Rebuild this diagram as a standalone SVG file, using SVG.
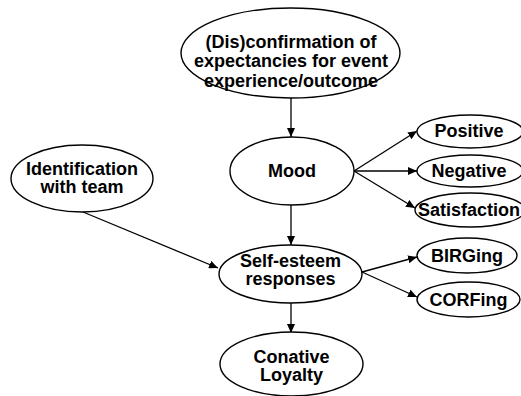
<svg xmlns="http://www.w3.org/2000/svg" width="521" height="396" viewBox="0 0 521 396">
  <style>
    .node ellipse { fill: #ffffff; stroke: #000000; stroke-width: 1.4; }
    .node text { font-family: "Liberation Sans", Arial, sans-serif; font-weight: bold; font-size: 18px; fill: #000000; text-anchor: middle; }
    .edges line { stroke: #000000; stroke-width: 1.3; fill: none; marker-end: url(#arrow); }
  </style>
  <defs>
    <marker id="arrow" markerUnits="userSpaceOnUse" markerWidth="10" markerHeight="8" refX="9" refY="4" orient="auto">
      <path d="M0,0 L9,4 L0,8 Z" fill="#000000"/>
    </marker>
  </defs>
  <rect width="521" height="396" fill="#ffffff"/>

  <g class="edges">
    <line x1="291" y1="98" x2="291" y2="137"/>
    <line x1="354" y1="171" x2="417" y2="131"/>
    <line x1="354" y1="171" x2="417" y2="171"/>
    <line x1="354" y1="171" x2="415" y2="208"/>
    <line x1="291" y1="205" x2="291" y2="245"/>
    <line x1="83" y1="212" x2="218" y2="268"/>
    <line x1="362" y1="272" x2="417" y2="257"/>
    <line x1="362" y1="272" x2="417" y2="297"/>
    <line x1="291" y1="303" x2="291" y2="333"/>
  </g>

  <g id="disconfirmation" class="node">
    <ellipse cx="290.5" cy="53" rx="109.5" ry="45"/>
    <text x="291" y="48">(Dis)confirmation of</text>
    <text x="291" y="67">expectancies for event</text>
    <text x="291" y="87">experience/outcome</text>
  </g>

  <g id="mood" class="node">
    <ellipse cx="292" cy="171" rx="62" ry="34"/>
    <text x="292" y="177">Mood</text>
  </g>

  <g id="identification" class="node">
    <ellipse cx="82" cy="178.5" rx="71" ry="33.5"/>
    <text x="82" y="175">Identification</text>
    <text x="82" y="193">with team</text>
  </g>

  <g id="positive" class="node">
    <ellipse cx="470" cy="131.5" rx="53" ry="16.5"/>
    <text x="469" y="137">Positive</text>
  </g>

  <g id="negative" class="node">
    <ellipse cx="470" cy="171" rx="53" ry="16"/>
    <text x="469" y="177">Negative</text>
  </g>

  <g id="satisfaction" class="node">
    <ellipse cx="470" cy="210" rx="55" ry="17"/>
    <text x="469" y="216">Satisfaction</text>
  </g>

  <g id="self-esteem" class="node">
    <ellipse cx="290.5" cy="274" rx="71.5" ry="29"/>
    <text x="290.5" y="267">Self-esteem</text>
    <text x="290.5" y="285">responses</text>
  </g>

  <g id="birging" class="node">
    <ellipse cx="467" cy="255.5" rx="50" ry="17.5"/>
    <text x="467" y="262">BIRGing</text>
  </g>

  <g id="corfing" class="node">
    <ellipse cx="468.5" cy="299.5" rx="51.5" ry="17.5"/>
    <text x="468.5" y="306">CORFing</text>
  </g>

  <g id="conative" class="node">
    <ellipse cx="291.5" cy="364" rx="71.5" ry="32"/>
    <text x="291.5" y="363">Conative</text>
    <text x="291.5" y="381">Loyalty</text>
  </g>
</svg>
